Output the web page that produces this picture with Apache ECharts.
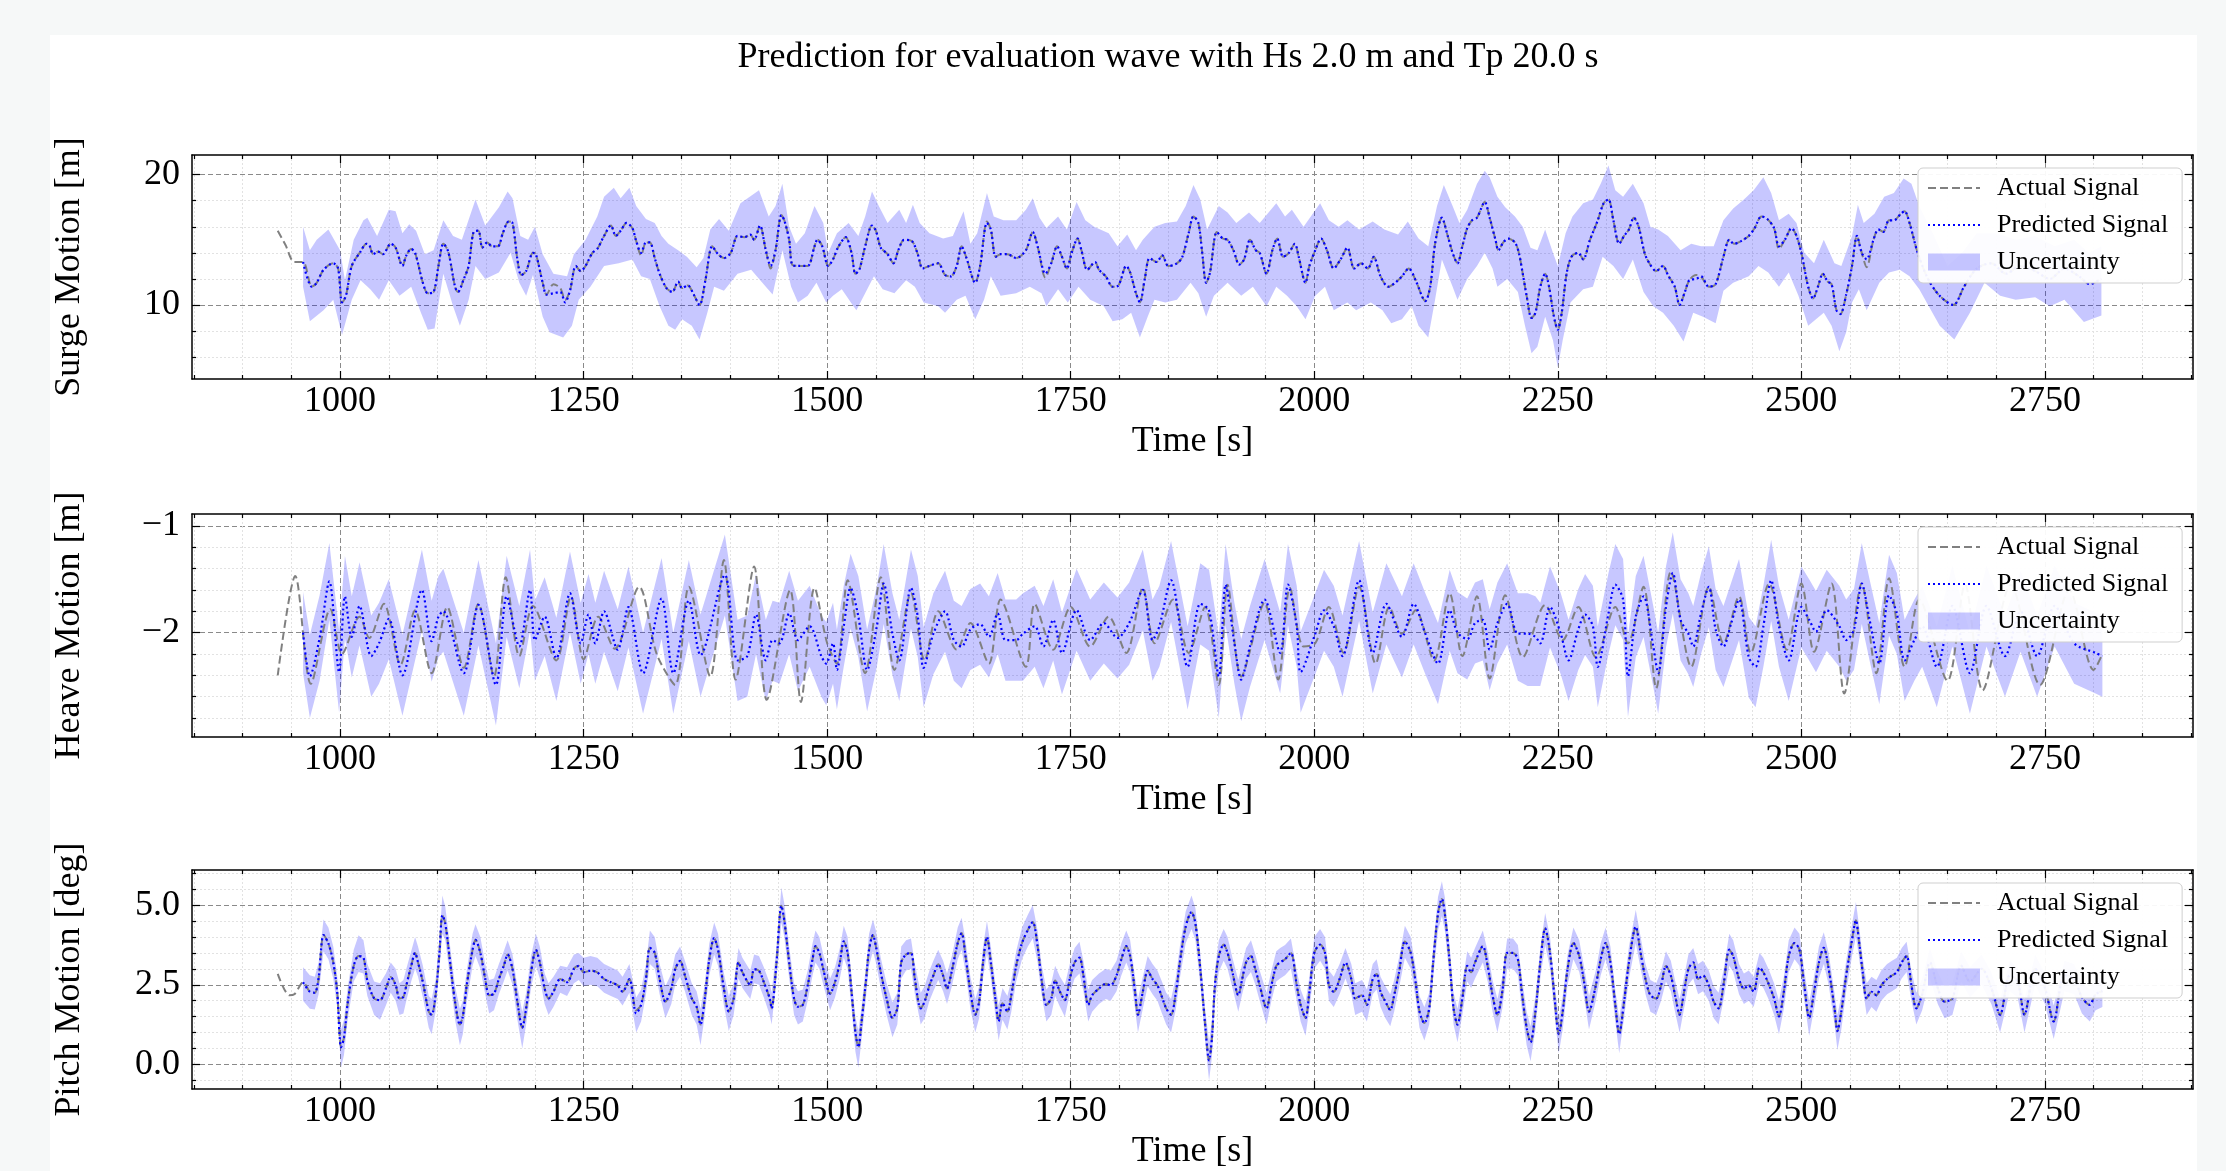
<!DOCTYPE html>
<html lang="en">
<head>
<meta charset="UTF-8">
<title>Prediction for evaluation wave with Hs 2.0 m and Tp 20.0 s</title>
<style>
  html, body { margin: 0; padding: 0; background: #f6f8f8; }
  #chart { width: 2226px; height: 1171px; }
</style>
</head>
<body>
<div id="chart"></div>
<script src="https://cdn.jsdelivr.net/npm/echarts@6/dist/echarts.min.js"></script>
<script>
// ---- axis ticks ----
const xMajor = [1000, 1250, 1500, 1750, 2000, 2250, 2500, 2750]
const xMinor = [850, 900, 950, 1050, 1100, 1150, 1200, 1300, 1350, 1400, 1450, 1550, 1600, 1650, 1700,
  1800, 1850, 1900, 1950, 2050, 2100, 2150, 2200, 2300, 2350, 2400, 2450, 2550, 2600, 2650, 2700, 2800, 2850, 2900]
const surgeYMajor = [10, 20]
const surgeYMinor = [6, 8, 12, 14, 16, 18]
const heaveYMajor = [-2, -1]
const heaveYMinor = [-2.8, -2.6, -2.4, -2.2, -1.8, -1.6, -1.4, -1.2]
const pitchYMajor = [0, 2.5, 5]
const pitchYMinor = [-0.5, 0.5, 1, 1.5, 2, 3, 3.5, 4, 4.5, 5.5, 6]

// ---- surge: [time, actual, predicted] ----
const surgeRows = [
  [936,15.7,null],[944,14.6,null],[953,13.3,null],[962,13.3,13.3],[971,11.4,11.4],[976,11.7,11.7],[983,12.7,12.7],
  [993,13.2,13.2],[998,12.8,12.8],[1002,10.2,10.2],[1006,10.7,10.7],[1012,13.0,13.0],[1021,14.1,14.1],[1027,14.7,14.7],
  [1030,14.6,14.6],[1034,13.9,13.9],[1039,14.1,14.1],[1044,13.9,13.9],[1052,14.7,14.7],[1057,14.4,14.4],[1064,13.0,13.0],
  [1068,13.8,13.8],[1073,14.3,14.3],[1077,14.0,14.0],[1085,11.7,11.7],[1090,10.9,10.9],[1096,11.0,11.0],[1101,13.0,13.0],
  [1106,14.7,14.7],[1111,14.1,14.1],[1118,11.4,11.4],[1121,11.0,11.0],[1127,12.0,12.0],[1132,13.0,13.0],[1137,15.6,15.6],
  [1142,15.7,15.7],[1146,14.4,14.4],[1151,14.8,14.8],[1156,14.5,14.5],[1162,14.5,14.5],[1167,15.5,15.5],[1173,16.4,16.4],
  [1177,16.3,16.3],[1182,13.5,13.5],[1186,12.3,12.3],[1191,12.6,12.6],[1198,14.0,14.0],[1201,13.9,13.9],[1208,11.7,11.7],
  [1212,10.8,10.8],[1219,11.6,10.9],[1226,11.3,11.0],[1231,10.4,10.2],[1236,11.1,11.1],[1242,13.0,13.0],[1247,12.6,12.6],
  [1252,13.0,13.0],[1259,14.0,14.0],[1264,14.3,14.3],[1271,15.3,15.3],[1278,16.1,16.1],[1283,15.3,15.3],[1288,15.7,15.7],
  [1294,16.3,16.3],[1300,15.9,15.9],[1304,14.9,14.9],[1309,13.8,14.0],[1314,14.8,14.8],[1318,14.8,14.8],[1323,13.6,13.6],
  [1328,12.4,12.4],[1335,11.3,11.3],[1341,11.0,11.0],[1347,11.8,11.8],[1351,11.3,11.3],[1357,11.5,11.5],[1363,10.8,10.8],
  [1369,10.0,10.0],[1375,11.9,11.9],[1382,14.5,14.5],[1388,13.9,13.9],[1394,13.6,13.6],[1401,14.0,14.0],[1408,15.3,15.3],
  [1415,15.2,15.2],[1421,15.4,15.4],[1425,15.0,15.0],[1431,16.1,16.1],[1437,14.2,14.2],[1442,12.8,13.0],[1447,14.2,14.2],
  [1453,16.9,16.9],[1456,16.5,16.5],[1461,15.0,15.0],[1464,13.1,13.1],[1470,13.0,13.0],[1480,13.0,13.0],[1487,14.5,14.5],
  [1490,15.0,15.0],[1495,14.5,14.5],[1501,13.0,13.0],[1506,13.5,13.5],[1511,14.4,14.4],[1519,15.2,15.2],[1525,14.0,14.0],
  [1529,12.4,12.4],[1533,12.7,12.7],[1539,14.5,14.5],[1546,16.1,16.1],[1550,15.7,15.7],[1555,14.4,14.4],[1562,13.9,13.9],
  [1568,13.2,13.2],[1573,14.2,14.2],[1579,15.0,15.0],[1587,14.9,14.9],[1593,13.9,13.9],[1598,12.8,12.8],[1605,13.0,13.0],
  [1614,13.2,13.2],[1621,12.3,12.3],[1627,12.2,12.2],[1633,13.0,13.0],[1638,14.5,14.5],[1643,13.6,13.6],[1652,11.7,11.7],
  [1657,13.0,13.0],[1664,16.4,16.3],[1668,15.8,15.8],[1673,13.7,13.7],[1678,13.9,13.9],[1685,13.9,13.9],[1694,13.6,13.6],
  [1704,14.2,14.2],[1711,15.6,15.6],[1716,14.5,14.5],[1724,12.1,12.4],[1730,13.2,13.2],[1736,14.5,14.5],[1741,13.7,13.7],
  [1746,12.8,12.8],[1751,14.0,14.0],[1757,15.1,15.1],[1761,14.2,14.2],[1767,12.7,12.7],[1775,13.3,13.3],[1779,12.7,12.7],
  [1786,12.2,12.2],[1793,11.4,11.4],[1799,11.5,11.5],[1807,13.0,13.0],[1811,12.5,12.5],[1817,10.9,10.9],[1821,10.2,10.2],
  [1826,12.0,12.0],[1831,13.6,13.6],[1838,13.3,13.3],[1844,13.8,13.8],[1850,13.0,13.0],[1857,13.1,13.1],[1864,13.6,13.6],
  [1871,15.5,15.5],[1876,16.8,16.8],[1881,16.3,16.3],[1885,14.0,14.0],[1889,11.7,11.7],[1893,12.5,12.5],[1900,15.6,15.6],
  [1906,15.1,15.1],[1911,15.0,15.0],[1917,14.2,14.2],[1923,13.1,13.1],[1928,13.5,13.5],[1934,15.0,15.0],[1940,14.2,14.2],
  [1944,14.0,14.0],[1951,12.4,12.4],[1957,14.2,14.2],[1962,15.1,15.1],[1968,13.7,13.7],[1974,14.0,14.0],[1980,14.7,14.7],
  [1984,13.7,13.7],[1991,11.7,11.7],[1995,13.0,13.0],[2001,14.2,14.2],[2007,15.1,15.1],[2013,14.2,14.2],[2020,12.8,12.8],
  [2027,13.5,13.5],[2034,14.4,14.4],[2041,12.8,12.8],[2048,13.2,13.2],[2055,12.8,12.8],[2061,13.7,13.7],[2068,12.2,12.2],
  [2076,11.4,11.4],[2083,11.7,11.7],[2090,12.2,12.2],[2097,12.8,12.8],[2104,11.9,11.9],[2114,10.3,10.3],[2119,11.4,11.4],
  [2124,14.7,14.7],[2131,16.7,16.7],[2137,15.3,15.3],[2142,14.0,14.0],[2147,13.2,13.2],[2152,14.5,14.5],[2157,15.9,15.9],
  [2162,16.5,16.5],[2167,16.7,16.7],[2175,17.9,17.9],[2180,16.7,16.7],[2186,15.0,15.0],[2189,14.2,14.2],[2194,14.8,14.8],
  [2199,15.1,15.1],[2206,14.8,14.8],[2210,14.0,14.0],[2214,12.4,12.4],[2218,10.7,10.7],[2223,9.0,9.0],[2227,9.4,9.4],
  [2232,11.4,11.4],[2237,12.4,12.4],[2241,11.4,11.4],[2246,9.1,9.1],[2250,8.1,8.1],[2254,9.4,9.4],[2259,12.4,12.4],
  [2264,13.7,13.7],[2271,14.0,14.0],[2276,13.5,13.5],[2283,15.0,15.0],[2291,16.5,16.5],[2297,17.8,17.8],[2302,18.1,18.1],
  [2307,16.5,16.5],[2313,14.7,14.7],[2318,15.3,15.3],[2323,15.8,15.8],[2328,16.7,16.7],[2333,16.0,16.0],[2339,14.0,14.0],
  [2344,13.2,13.2],[2351,12.6,12.6],[2358,13.0,13.0],[2363,12.3,12.3],[2370,11.4,11.4],[2375,10.0,10.0],[2380,10.9,10.9],
  [2385,11.9,11.9],[2392,12.3,12.0],[2397,12.2,12.2],[2405,11.4,11.4],[2412,11.6,11.6],[2420,13.7,13.7],[2426,15.0,15.0],
  [2431,14.7,14.7],[2438,14.9,14.9],[2446,15.3,15.3],[2452,15.9,15.9],[2459,16.8,16.8],[2465,16.6,16.6],[2472,15.9,15.9],
  [2477,14.3,14.5],[2483,15.0,15.0],[2490,15.9,15.9],[2495,15.3,15.3],[2500,14.0,14.0],[2507,11.4,11.4],[2512,10.5,10.5],
  [2517,11.4,11.4],[2522,12.4,12.4],[2527,11.8,11.8],[2531,11.6,11.6],[2536,9.6,9.6],[2540,9.3,9.3],[2546,10.8,10.8],
  [2552,13.0,13.0],[2557,15.3,15.3],[2562,14.0,14.0],[2567,12.9,13.5],[2574,15.0,15.0],[2579,15.8,15.8],[2584,15.6,15.6],
  [2590,16.5,16.5],[2595,16.5,16.5],[2602,17.0,17.0],[2606,17.2,17.2],[2611,16.3,16.3],[2619,14.1,14.1],[2630,12.0,12.0],
  [2642,10.7,10.7],[2656,10.0,10.0],[2667,11.4,11.4],[2680,12.8,12.8],[2695,13.2,13.2],[2710,12.4,12.4],[2725,13.0,13.0],
  [2740,12.6,12.6],[2755,12.0,12.0],[2770,12.8,12.8],[2785,12.2,12.2],[2796,11.6,11.6],[2808,12.0,12.0]
]
const surgeHi = [
  [962,16.0],[969,14.2],[976,15.0],[988,15.8],[1000,14.2],[1005,11.9],[1014,15.0],[1024,16.5],[1028,16.7],[1038,15.3],
  [1050,17.3],[1057,17.2],[1064,15.5],[1071,16.2],[1078,15.7],[1087,13.9],[1096,14.2],[1106,16.5],[1116,15.3],[1125,15.0],
  [1139,18.1],[1149,16.1],[1163,17.5],[1172,18.7],[1177,18.2],[1185,15.3],[1193,15.0],[1200,16.0],[1208,13.9],[1219,12.4],
  [1233,12.2],[1240,13.9],[1252,15.0],[1264,16.8],[1271,18.3],[1281,19.0],[1288,18.2],[1297,19.0],[1304,17.6],[1314,16.6],
  [1323,16.3],[1330,15.3],[1337,14.7],[1347,14.2],[1356,13.7],[1366,12.9],[1373,13.6],[1380,15.8],[1389,16.6],[1399,15.7],
  [1411,17.8],[1430,18.8],[1440,16.8],[1447,17.6],[1454,19.3],[1461,16.0],[1468,14.7],[1477,15.5],[1487,17.6],[1496,16.3],
  [1501,14.0],[1510,15.5],[1522,16.3],[1532,15.3],[1539,16.8],[1546,18.7],[1553,17.6],[1562,16.3],[1574,17.3],[1581,16.3],
  [1588,17.7],[1595,16.3],[1605,15.5],[1619,15.1],[1629,15.3],[1640,17.2],[1647,14.7],[1654,15.5],[1664,18.6],[1671,16.8],
  [1681,16.5],[1694,16.5],[1704,17.3],[1711,18.2],[1718,16.7],[1725,15.9],[1737,16.8],[1746,15.8],[1756,17.9],[1765,16.5],
  [1774,16.0],[1789,15.5],[1798,14.5],[1808,15.4],[1817,14.2],[1824,15.0],[1836,16.0],[1847,16.3],[1859,16.4],[1868,17.6],
  [1876,19.2],[1883,18.1],[1890,15.8],[1902,17.6],[1911,17.1],[1920,16.3],[1933,17.1],[1944,16.3],[1961,17.8],[1970,16.8],
  [1977,17.3],[1989,16.0],[2006,17.8],[2015,16.5],[2025,16.0],[2034,16.5],[2046,15.8],[2060,16.4],[2072,15.8],[2086,15.4],
  [2096,16.4],[2107,15.1],[2117,14.5],[2126,17.6],[2133,19.2],[2142,17.6],[2149,16.3],[2157,17.3],[2167,19.3],[2175,20.3],
  [2180,19.8],[2188,18.3],[2196,17.5],[2206,16.8],[2214,16.0],[2222,14.4],[2229,14.2],[2237,15.8],[2245,14.0],[2250,13.0],
  [2258,15.5],[2265,16.8],[2276,17.8],[2286,18.1],[2294,19.3],[2302,20.7],[2309,18.8],[2317,18.3],[2327,19.3],[2338,17.8],
  [2345,16.0],[2353,15.8],[2363,15.3],[2376,14.2],[2387,14.7],[2397,14.5],[2410,14.5],[2420,16.5],[2430,17.4],[2441,18.1],
  [2451,18.8],[2461,19.8],[2469,18.6],[2477,16.5],[2487,17.0],[2495,16.3],[2503,14.0],[2513,13.2],[2523,15.0],[2534,13.2],
  [2541,13.0],[2552,15.3],[2558,17.7],[2564,16.3],[2575,17.0],[2585,18.3],[2595,18.6],[2605,19.7],[2613,19.3],[2621,17.6],
  [2635,15.5],[2650,13.0],[2665,14.0],[2680,15.5],[2700,15.5],[2720,15.0],[2740,15.3],[2760,14.5],[2780,15.0],[2795,14.0],
  [2808,14.5]
]
const surgeLo = [
  [962,11.4],[969,8.75],[983,9.6],[993,10.4],[1002,7.7],[1012,10.4],[1021,11.9],[1031,11.2],[1040,10.4],[1050,11.9],
  [1061,10.7],[1073,11.4],[1083,9.4],[1090,8.1],[1097,8.2],[1106,12.4],[1116,9.9],[1123,8.4],[1132,10.4],[1139,13.0],
  [1149,12.0],[1163,12.5],[1175,14.0],[1184,11.7],[1191,10.7],[1198,12.3],[1208,9.1],[1215,7.9],[1229,7.5],[1238,8.4],
  [1245,10.4],[1257,11.4],[1271,13.0],[1286,13.2],[1300,13.5],[1309,12.2],[1318,12.0],[1328,9.9],[1337,8.4],[1344,8.1],
  [1351,8.9],[1361,8.4],[1369,7.35],[1377,9.4],[1384,11.4],[1394,11.1],[1408,12.4],[1422,12.7],[1437,11.4],[1444,10.8],
  [1454,14.2],[1463,11.4],[1470,10.2],[1480,10.7],[1489,11.7],[1499,10.2],[1506,10.7],[1515,11.2],[1527,9.9],[1530,9.6],
  [1539,10.9],[1548,12.2],[1557,11.2],[1569,10.9],[1581,11.9],[1590,11.4],[1599,10.2],[1614,9.9],[1621,9.4],[1633,10.4],
  [1642,10.7],[1652,8.9],[1661,10.4],[1668,12.2],[1678,10.7],[1694,10.9],[1708,11.4],[1720,10.9],[1725,9.9],[1737,11.2],
  [1747,10.2],[1758,11.4],[1770,10.4],[1784,9.9],[1793,8.75],[1803,8.9],[1812,9.4],[1821,7.5],[1829,9.1],[1836,10.4],
  [1847,10.2],[1859,10.4],[1873,11.7],[1881,10.9],[1889,9.1],[1897,10.7],[1911,11.7],[1925,10.7],[1937,11.4],[1951,9.9],
  [1961,11.4],[1972,10.7],[1982,9.9],[1991,8.9],[2001,10.7],[2011,11.4],[2020,9.6],[2034,10.2],[2043,9.6],[2058,10.2],
  [2070,9.6],[2079,8.6],[2090,8.9],[2100,9.9],[2107,8.4],[2117,7.5],[2124,10.4],[2131,13.5],[2142,11.4],[2147,10.4],
  [2157,12.0],[2167,13.0],[2175,14.0],[2183,12.8],[2188,11.4],[2198,12.0],[2209,11.0],[2216,8.5],[2223,6.3],[2229,6.8],
  [2237,9.1],[2245,7.3],[2250,5.2],[2255,7.3],[2263,10.2],[2276,11.2],[2286,11.4],[2296,13.7],[2307,13.0],[2317,12.0],
  [2327,13.5],[2338,11.0],[2348,9.9],[2358,9.4],[2369,8.4],[2379,7.2],[2389,9.4],[2399,9.1],[2412,8.6],[2420,11.1],
  [2430,11.7],[2446,12.2],[2456,13.0],[2466,12.5],[2477,11.4],[2487,12.5],[2497,10.7],[2507,8.4],[2515,8.9],[2523,9.4],
  [2531,8.4],[2539,6.45],[2546,7.9],[2552,10.2],[2559,11.2],[2567,9.6],[2580,11.7],[2590,12.5],[2601,12.7],[2611,12.2],
  [2621,11.2],[2642,8.4],[2657,7.35],[2673,9.4],[2688,11.7],[2704,10.7],[2720,10.4],[2740,10.6],[2755,9.9],[2770,10.4],
  [2790,8.7],[2808,9.2]
]

// ---- heave ----
const heaveActual = [
  [936,-2.40],[954,-1.47],[970,-2.48],[990,-1.78],[1002,-2.20],[1020,-1.85],[1030,-2.05],[1045,-1.73],[1062,-2.30],
  [1077,-1.79],[1094,-2.38],[1110,-1.76],[1127,-2.33],[1142,-1.73],[1158,-2.41],[1170,-1.48],[1184,-2.22],[1198,-1.75],
  [1222,-2.26],[1237,-1.66],[1250,-2.25],[1265,-1.85],[1282,-2.15],[1307,-1.57],[1325,-2.20],[1344,-2.49],[1358,-1.57],
  [1380,-2.41],[1394,-1.32],[1406,-2.44],[1425,-1.38],[1438,-2.63],[1462,-1.60],[1473,-2.65],[1487,-1.58],[1500,-2.10],
  [1510,-2.29],[1521,-1.51],[1539,-2.38],[1555,-1.48],[1569,-2.35],[1586,-1.63],[1600,-2.26],[1614,-1.80],[1633,-2.16],
  [1647,-1.91],[1666,-2.29],[1678,-1.69],[1704,-2.32],[1713,-1.73],[1732,-2.16],[1750,-1.76],[1770,-2.13],[1789,-1.85],
  [1807,-2.19],[1824,-1.58],[1836,-2.10],[1855,-1.69],[1871,-2.19],[1888,-1.76],[1902,-2.49],[1911,-1.55],[1925,-2.41],
  [1949,-1.72],[1963,-2.44],[1975,-1.58],[1989,-2.13],[2001,-2.10],[2015,-1.76],[2030,-2.19],[2046,-1.57],[2063,-2.29],
  [2077,-1.76],[2090,-2.01],[2104,-1.79],[2123,-2.26],[2139,-1.63],[2152,-2.22],[2167,-1.66],[2180,-2.43],[2196,-1.65],
  [2214,-2.23],[2237,-1.74],[2255,-2.07],[2271,-1.76],[2289,-2.23],[2309,-1.76],[2322,-2.10],[2338,-1.57],[2351,-2.52],
  [2366,-1.43],[2387,-2.32],[2405,-1.57],[2420,-2.10],[2436,-1.66],[2448,-2.19],[2467,-1.54],[2485,-2.16],[2500,-1.54],
  [2513,-2.18],[2531,-1.54],[2544,-2.57],[2562,-1.54],[2577,-2.38],[2590,-1.49],[2606,-2.32],[2621,-1.69],[2650,-2.45],
  [2668,-1.55],[2686,-2.54],[2715,-1.55],[2745,-2.49],[2775,-1.60],[2800,-2.35],[2809,-2.20]
]
// [time, predicted, lower, upper]
const heavePred = [
  [962,-2.00,-2.38,-1.62],[969,-2.41,-2.80,-2.02],[979,-2.05,-2.45,-1.65],[989,-1.52,-1.88,-1.16],[999,-2.37,-2.75,-1.98],
  [1005,-1.66,-2.05,-1.28],[1012,-2.04,-2.42,-1.66],[1020,-1.75,-2.12,-1.34],[1032,-2.22,-2.60,-1.84],[1040,-2.10,-2.48,-1.72],
  [1050,-1.87,-2.25,-1.50],[1064,-2.40,-2.78,-2.02],[1084,-1.60,-1.98,-1.22],[1094,-2.08,-2.46,-1.70],[1101,-1.85,-2.23,-1.47],
  [1106,-1.80,-2.18,-1.40],[1127,-2.38,-2.78,-2.00],[1142,-1.74,-2.12,-1.32],[1160,-2.49,-2.87,-2.10],[1171,-1.66,-2.04,-1.28],
  [1184,-2.13,-2.52,-1.75],[1195,-1.60,-1.98,-1.22],[1200,-2.07,-2.45,-1.70],[1210,-1.85,-2.22,-1.48],[1222,-2.24,-2.64,-1.86],
  [1236,-1.63,-2.00,-1.24],[1247,-2.10,-2.48,-1.72],[1255,-1.83,-2.20,-1.45],[1262,-2.10,-2.48,-1.72],[1271,-1.80,-2.18,-1.42],
  [1285,-2.16,-2.55,-1.78],[1296,-1.76,-2.14,-1.38],[1311,-2.38,-2.76,-2.00],[1330,-1.68,-2.06,-1.30],[1342,-2.38,-2.76,-2.00],
  [1358,-1.70,-2.08,-1.32],[1370,-2.21,-2.60,-1.83],[1395,-1.46,-1.84,-1.08],[1408,-2.26,-2.64,-1.88],[1418,-2.22,-2.60,-1.84],
  [1427,-1.83,-2.20,-1.45],[1437,-2.26,-2.64,-1.88],[1444,-2.07,-2.45,-1.70],[1451,-2.10,-2.48,-1.72],[1461,-1.82,-2.20,-1.42],
  [1470,-2.07,-2.55,-1.70],[1482,-1.94,-2.32,-1.56],[1494,-2.22,-2.60,-1.84],[1499,-2.29,-2.68,-1.90],[1506,-2.10,-2.48,-1.72],
  [1510,-2.35,-2.72,-1.97],[1517,-1.94,-2.32,-1.56],[1524,-1.58,-1.96,-1.26],[1532,-1.85,-2.23,-1.47],[1541,-2.35,-2.74,-1.97],
  [1551,-1.94,-2.32,-1.56],[1558,-1.54,-1.92,-1.17],[1567,-2.01,-2.40,-1.63],[1574,-2.26,-2.64,-1.88],[1586,-1.58,-1.96,-1.22],
  [1593,-1.85,-2.23,-1.47],[1599,-2.33,-2.70,-1.95],[1609,-2.01,-2.39,-1.63],[1621,-1.80,-2.18,-1.42],[1630,-2.07,-2.45,-1.70],
  [1638,-2.13,-2.52,-1.75],[1647,-1.97,-2.35,-1.59],[1657,-1.92,-2.30,-1.54],[1666,-2.04,-2.42,-1.66],[1675,-1.82,-2.20,-1.44],
  [1683,-2.07,-2.45,-1.69],[1694,-2.07,-2.45,-1.69],[1701,-2.01,-2.45,-1.63],[1713,-1.94,-2.32,-1.56],[1722,-2.13,-2.52,-1.75],
  [1732,-1.88,-2.26,-1.50],[1741,-2.19,-2.58,-1.81],[1756,-1.79,-2.17,-1.40],[1770,-2.07,-2.45,-1.69],[1784,-1.91,-2.29,-1.53],
  [1798,-2.05,-2.43,-1.67],[1810,-1.91,-2.30,-1.53],[1824,-1.60,-1.98,-1.22],[1834,-2.07,-2.45,-1.69],[1841,-1.94,-2.32,-1.56],
  [1853,-1.51,-1.90,-1.14],[1870,-2.32,-2.72,-1.94],[1883,-1.73,-2.11,-1.35],[1892,-1.79,-2.17,-1.41],[1902,-2.41,-2.80,-2.03],
  [1909,-1.55,-1.93,-1.17],[1918,-2.10,-2.48,-1.72],[1925,-2.44,-2.83,-2.06],[1934,-2.13,-2.51,-1.75],[1949,-1.69,-2.07,-1.31],
  [1965,-2.19,-2.57,-1.81],[1973,-1.55,-1.93,-1.17],[1982,-1.94,-2.32,-1.56],[1986,-2.37,-2.75,-1.99],[2001,-2.01,-2.39,-1.63],
  [2010,-1.79,-2.17,-1.41],[2020,-1.94,-2.32,-1.56],[2029,-2.22,-2.60,-1.84],[2046,-1.51,-1.89,-1.14],[2060,-2.19,-2.57,-1.81],
  [2074,-1.73,-2.11,-1.35],[2090,-2.04,-2.42,-1.66],[2102,-1.73,-2.11,-1.35],[2114,-2.01,-2.39,-1.63],[2127,-2.29,-2.67,-1.91],
  [2139,-1.79,-2.17,-1.41],[2147,-2.00,-2.38,-1.62],[2157,-2.06,-2.44,-1.68],[2165,-1.91,-2.29,-1.53],[2173,-1.88,-2.26,-1.50],
  [2180,-2.16,-2.54,-1.78],[2188,-1.91,-2.29,-1.53],[2198,-1.73,-2.11,-1.35],[2209,-2.01,-2.45,-1.63],[2219,-2.01,-2.50,-1.63],
  [2227,-2.04,-2.50,-1.66],[2232,-2.10,-2.50,-1.72],[2242,-1.76,-2.14,-1.38],[2253,-2.01,-2.39,-1.63],[2261,-2.26,-2.64,-1.88],
  [2271,-1.97,-2.35,-1.59],[2278,-1.83,-2.21,-1.45],[2286,-1.94,-2.32,-1.56],[2291,-2.32,-2.70,-1.94],[2302,-1.82,-2.20,-1.44],
  [2309,-1.55,-1.93,-1.17],[2317,-1.69,-2.07,-1.31],[2322,-2.41,-2.79,-2.03],[2330,-1.85,-2.23,-1.47],[2338,-1.66,-2.04,-1.28],
  [2348,-2.13,-2.51,-1.75],[2353,-2.38,-2.76,-2.00],[2361,-1.76,-2.14,-1.38],[2368,-1.44,-1.82,-1.06],[2376,-1.88,-2.26,-1.50],
  [2384,-2.01,-2.39,-1.63],[2389,-2.13,-2.51,-1.75],[2397,-1.82,-2.20,-1.44],[2405,-1.57,-1.95,-1.19],[2412,-1.97,-2.35,-1.59],
  [2420,-2.13,-2.51,-1.75],[2428,-1.91,-2.29,-1.53],[2436,-1.69,-2.07,-1.31],[2446,-2.23,-2.61,-1.85],[2453,-2.32,-2.70,-1.94],
  [2461,-1.94,-2.32,-1.56],[2469,-1.51,-1.89,-1.13],[2477,-1.94,-2.32,-1.56],[2487,-2.26,-2.64,-1.88],[2500,-1.76,-2.14,-1.38],
  [2508,-1.88,-2.26,-1.50],[2515,-1.99,-2.37,-1.61],[2526,-1.79,-2.17,-1.41],[2539,-1.94,-2.32,-1.56],[2546,-2.07,-2.45,-1.69],
  [2554,-1.97,-2.35,-1.59],[2562,-1.54,-1.92,-1.16],[2570,-1.88,-2.26,-1.50],[2580,-2.29,-2.67,-1.91],[2590,-1.65,-2.03,-1.27],
  [2598,-1.82,-2.20,-1.44],[2606,-2.26,-2.64,-1.88],[2616,-2.07,-2.45,-1.69],[2624,-1.94,-2.32,-1.56],[2639,-2.32,-2.70,-1.94],
  [2655,-1.75,-2.13,-1.37],[2673,-2.38,-2.76,-2.00],[2690,-1.75,-2.13,-1.37],[2709,-2.22,-2.60,-1.84],[2725,-1.80,-2.18,-1.42],
  [2742,-2.22,-2.60,-1.84],[2760,-1.75,-2.13,-1.37],[2780,-2.10,-2.48,-1.72],[2802,-2.19,-2.57,-1.81],[2809,-2.22,-2.60,-1.84]
]

// ---- pitch: [time, actual, predicted, lower, upper] ----
const pitchRows = [
  [936,2.84,null,null,null],[948,2.17,null,null,null],[953,2.20,null,null,null],[960,2.53,null,null,null],
  [962,2.58,2.58,2.00,3.05],[969,2.28,2.28,1.75,2.80],[974,2.25,2.25,1.72,2.75],[978,2.70,2.72,2.20,3.20],[983,4.06,4.06,3.55,4.55],
  [988,3.80,3.80,3.30,4.30],[993,3.20,3.20,2.70,3.70],[997,2.30,2.28,1.80,2.80],[1001,0.54,0.54,-0.10,1.10],[1004,0.84,0.84,0.30,1.40],
  [1008,1.97,1.97,1.45,2.45],[1014,3.09,3.09,2.60,3.60],[1019,3.40,3.40,2.90,4.05],[1024,3.35,3.35,2.85,3.90],[1028,2.63,2.63,2.15,3.15],
  [1035,2.07,2.07,1.55,2.60],[1041,2.02,2.02,1.40,2.55],[1047,2.38,2.38,1.85,2.85],[1052,2.74,2.74,2.25,3.20],[1057,2.50,2.50,2.00,3.00],
  [1061,2.07,2.07,1.55,2.55],[1065,2.12,2.12,1.60,2.65],[1068,2.48,2.48,2.00,3.00],[1073,3.09,3.09,2.60,3.55],[1077,3.50,3.50,3.00,4.00],
  [1080,3.20,3.20,2.75,3.70],[1085,2.58,2.58,2.10,3.10],[1091,1.66,1.66,1.15,2.15],[1094,1.56,1.56,0.95,2.05],[1098,2.17,2.17,1.65,2.65],
  [1102,3.50,3.50,3.00,4.00],[1105,4.68,4.68,4.10,5.30],[1108,4.42,4.42,3.90,4.95],[1113,3.20,3.20,2.70,3.70],[1118,1.97,1.97,1.40,2.45],
  [1123,1.25,1.25,0.60,1.75],[1126,1.51,1.51,0.95,2.00],[1130,2.48,2.48,1.95,2.95],[1136,3.60,3.60,3.10,4.10],[1139,3.91,3.91,3.40,4.40],
  [1144,3.50,3.50,3.00,4.00],[1149,2.68,2.68,2.20,3.15],[1153,2.17,2.17,1.60,2.65],[1158,2.22,2.22,1.70,2.70],[1163,2.68,2.68,2.20,3.15],
  [1168,3.09,3.09,2.60,3.55],[1172,3.45,3.45,2.95,3.90],[1177,2.99,2.99,2.50,3.45],[1182,1.97,1.97,1.40,2.45],[1187,1.15,1.15,0.50,1.65],
  [1191,1.76,1.76,1.25,2.25],[1196,2.89,2.89,2.40,3.40],[1201,3.60,3.60,3.10,4.10],[1205,3.20,3.20,2.70,3.70],[1210,2.38,2.38,1.90,2.85],
  [1214,2.07,2.07,1.55,2.55],[1219,2.28,2.28,1.80,2.75],[1226,2.68,2.68,2.25,3.10],[1233,2.58,2.58,2.15,3.05],[1240,3.00,3.00,2.55,3.45],
  [1245,3.09,3.09,2.65,3.50],[1250,2.89,2.89,2.45,3.35],[1257,2.94,2.94,2.50,3.40],[1264,2.89,2.89,2.45,3.35],[1271,2.68,2.68,2.25,3.15],
  [1278,2.58,2.58,2.15,3.05],[1285,2.48,2.48,2.05,2.95],[1290,2.28,2.28,1.85,2.75],[1297,2.68,2.68,2.25,3.15],[1304,1.70,1.60,1.00,2.10],
  [1309,1.87,1.87,1.35,2.35],[1314,2.68,2.68,2.20,3.15],[1318,3.66,3.66,3.15,4.20],[1323,3.50,3.50,3.00,4.00],[1328,2.68,2.68,2.20,3.15],
  [1334,1.97,1.97,1.45,2.45],[1340,2.38,2.38,1.90,2.85],[1344,2.99,2.99,2.50,3.45],[1349,3.25,3.25,2.75,3.70],[1354,2.79,2.79,2.30,3.25],
  [1361,2.07,2.07,1.55,2.55],[1366,1.81,1.81,1.25,2.30],[1370,1.25,1.25,0.60,1.75],[1374,1.97,1.97,1.45,2.45],[1379,3.30,3.30,2.80,3.80],
  [1384,3.96,3.96,3.45,4.45],[1388,3.60,3.60,3.10,4.10],[1394,2.38,2.38,1.85,2.85],[1399,1.66,1.66,1.05,2.15],[1404,2.07,2.07,1.55,2.55],
  [1409,3.20,3.20,2.70,3.65],[1413,2.89,2.89,2.40,3.35],[1421,2.50,2.50,2.05,2.95],[1425,2.99,2.99,2.55,3.45],[1430,2.94,2.94,2.50,3.40],
  [1435,2.58,2.58,2.10,3.05],[1441,2.07,2.07,1.55,2.55],[1443,1.76,1.76,1.25,2.25],[1448,3.20,3.20,2.70,3.70],[1453,4.98,4.98,4.45,5.55],
  [1456,4.52,4.52,4.00,5.05],[1461,3.20,3.20,2.70,3.70],[1466,2.07,2.07,1.55,2.55],[1470,1.81,1.81,1.25,2.30],[1475,1.87,1.87,1.35,2.35],
  [1480,2.48,2.48,2.00,2.95],[1485,3.30,3.30,2.80,3.80],[1488,3.71,3.71,3.20,4.20],[1492,3.50,3.50,3.00,4.00],[1496,2.99,2.99,2.50,3.45],
  [1503,2.22,2.22,1.70,2.70],[1508,2.58,2.58,2.10,3.05],[1513,3.20,3.20,2.70,3.65],[1517,3.86,3.86,3.35,4.35],[1521,3.50,3.50,3.00,4.00],
  [1525,2.28,2.28,1.75,2.75],[1529,1.00,1.00,0.40,1.50],[1532,0.54,0.54,-0.10,1.05],[1535,1.25,1.25,0.70,1.75],[1540,2.68,2.68,2.15,3.15],
  [1543,3.60,3.60,3.10,4.10],[1547,4.06,4.06,3.55,4.55],[1550,3.71,3.71,3.20,4.20],[1555,2.89,2.89,2.40,3.35],[1561,2.07,2.07,1.55,2.55],
  [1567,1.46,1.46,0.85,1.95],[1572,1.76,1.76,1.25,2.25],[1576,3.20,3.20,2.70,3.70],[1581,3.45,3.45,2.95,3.90],[1586,3.50,3.50,3.00,3.95],
  [1590,2.68,2.68,2.20,3.15],[1596,1.76,1.76,1.25,2.25],[1600,1.97,1.97,1.45,2.45],[1605,2.48,2.48,2.00,2.95],[1609,2.79,2.79,2.30,3.25],
  [1614,3.14,3.14,2.65,3.60],[1619,2.79,2.79,2.30,3.25],[1623,2.38,2.38,1.90,2.85],[1628,2.94,2.94,2.45,3.40],[1634,3.81,3.81,3.30,4.30],
  [1638,4.12,4.12,3.60,4.60],[1642,3.40,3.40,2.90,3.90],[1647,2.28,2.28,1.75,2.75],[1652,1.56,1.56,1.00,2.05],[1656,1.97,1.97,1.45,2.45],
  [1660,3.20,3.20,2.70,3.70],[1664,4.00,4.00,3.50,4.50],[1668,3.20,3.20,2.70,3.70],[1673,1.97,1.97,1.45,2.45],[1676,1.35,1.35,0.75,1.85],
  [1680,1.92,1.92,1.40,2.40],[1685,1.66,1.66,1.10,2.15],[1689,2.17,2.17,1.65,2.65],[1694,3.09,3.09,2.60,3.55],[1700,3.81,3.81,3.30,4.30],
  [1706,4.22,4.22,3.70,4.70],[1711,4.47,4.47,3.95,5.00],[1716,3.71,3.71,3.20,4.20],[1720,2.68,2.68,2.20,3.15],[1725,1.87,1.87,1.35,2.35],
  [1730,2.07,2.07,1.55,2.55],[1734,2.63,2.63,2.15,3.10],[1739,2.28,2.28,1.80,2.75],[1744,2.02,2.02,1.50,2.50],[1749,2.68,2.68,2.20,3.15],
  [1754,3.20,3.20,2.70,3.65],[1759,3.35,3.35,2.85,3.85],[1763,2.79,2.79,2.30,3.25],[1768,1.87,1.87,1.35,2.35],[1772,2.17,2.17,1.65,2.65],
  [1779,2.38,2.38,1.90,2.85],[1786,2.53,2.53,2.05,3.00],[1791,2.48,2.48,2.00,2.95],[1797,2.79,2.79,2.30,3.25],[1802,3.30,3.30,2.80,3.80],
  [1807,3.71,3.71,3.20,4.20],[1811,3.40,3.40,2.90,3.90],[1816,2.28,2.28,1.75,2.75],[1819,1.56,1.56,1.00,2.05],[1824,2.28,2.28,1.75,2.75],
  [1829,2.94,2.94,2.45,3.40],[1834,2.68,2.68,2.20,3.15],[1839,2.48,2.48,2.00,2.95],[1843,2.17,2.17,1.65,2.65],[1848,1.76,1.76,1.25,2.25],
  [1853,1.56,1.56,1.00,2.05],[1858,2.28,2.28,1.75,2.75],[1862,3.20,3.20,2.70,3.70],[1868,4.32,4.32,3.80,4.80],[1874,4.78,4.78,4.25,5.30],
  [1878,4.42,4.42,3.90,4.90],[1883,3.00,3.00,2.50,3.50],[1888,1.25,1.25,0.70,1.75],[1892,0.13,0.13,-0.50,0.70],[1895,0.84,0.84,0.25,1.40],
  [1898,2.48,2.48,1.95,2.95],[1902,3.40,3.40,2.90,3.90],[1907,3.76,3.76,3.25,4.25],[1911,3.50,3.50,3.00,4.00],[1916,2.89,2.89,2.40,3.35],
  [1922,2.17,2.17,1.65,2.65],[1926,2.68,2.68,2.20,3.15],[1930,3.20,3.20,2.70,3.65],[1935,3.40,3.40,2.90,3.90],[1939,3.04,3.04,2.55,3.50],
  [1944,2.48,2.48,2.00,2.95],[1951,1.76,1.76,1.25,2.25],[1956,2.48,2.48,2.00,2.95],[1961,3.09,3.09,2.60,3.55],[1965,3.20,3.20,2.70,3.65],
  [1970,3.30,3.30,2.80,3.75],[1976,3.50,3.50,3.00,3.95],[1982,2.48,2.48,2.00,2.95],[1986,1.87,1.87,1.35,2.35],[1991,1.46,1.46,0.90,1.95],
  [1995,2.28,2.28,1.75,2.75],[2000,3.50,3.50,3.00,4.00],[2006,3.76,3.76,3.25,4.25],[2011,3.50,3.50,3.00,4.00],[2015,2.48,2.48,2.00,2.95],
  [2020,2.28,2.28,1.80,2.75],[2026,2.68,2.68,2.20,3.15],[2032,3.20,3.20,2.70,3.65],[2038,2.68,2.68,2.20,3.15],[2042,2.07,2.07,1.55,2.55],
  [2049,2.17,2.17,1.65,2.65],[2054,1.87,1.87,1.35,2.35],[2060,2.68,2.68,2.20,3.15],[2064,2.84,2.84,2.35,3.30],[2068,2.28,2.28,1.80,2.75],
  [2073,1.97,1.97,1.45,2.45],[2078,1.71,1.71,1.20,2.20],[2082,2.17,2.17,1.65,2.65],[2087,2.89,2.89,2.40,3.35],[2093,3.86,3.86,3.35,4.35],
  [2099,3.50,3.50,3.00,4.00],[2104,2.58,2.58,2.10,3.05],[2108,1.66,1.66,1.15,2.15],[2113,1.30,1.30,0.75,1.80],[2118,1.76,1.76,1.25,2.25],
  [2122,3.20,3.20,2.70,3.70],[2127,4.73,4.73,4.20,5.25],[2131,5.19,5.19,4.65,5.75],[2134,4.73,4.73,4.20,5.25],[2139,3.20,3.20,2.70,3.70],
  [2143,1.76,1.76,1.25,2.25],[2147,1.25,1.25,0.70,1.75],[2152,2.07,2.07,1.55,2.55],[2157,3.09,3.09,2.60,3.55],[2161,2.89,2.89,2.40,3.35],
  [2165,3.20,3.20,2.70,3.65],[2173,3.71,3.71,3.20,4.20],[2178,3.09,3.09,2.60,3.55],[2183,2.17,2.17,1.65,2.65],[2188,1.56,1.56,1.00,2.05],
  [2193,2.28,2.28,1.75,2.75],[2198,3.50,3.50,3.00,3.95],[2204,3.50,3.50,3.00,3.95],[2209,3.30,3.30,2.80,3.75],[2213,2.28,2.28,1.75,2.75],
  [2218,1.15,1.15,0.60,1.65],[2222,0.69,0.69,0.10,1.20],[2227,1.66,1.66,1.10,2.15],[2232,3.20,3.20,2.70,3.65],[2237,4.27,4.27,3.75,4.75],
  [2242,3.50,3.50,3.00,4.00],[2247,1.97,1.97,1.45,2.45],[2251,0.95,0.95,0.35,1.45],[2255,1.66,1.66,1.10,2.15],[2260,2.99,2.99,2.50,3.45],
  [2266,3.81,3.81,3.30,4.30],[2272,3.40,3.40,2.90,3.90],[2277,2.58,2.58,2.10,3.05],[2282,1.66,1.66,1.10,2.15],[2289,2.48,2.48,2.00,2.95],
  [2294,3.30,3.30,2.80,3.80],[2299,3.81,3.81,3.30,4.30],[2304,3.20,3.20,2.70,3.70],[2309,1.87,1.87,1.35,2.35],[2313,0.95,0.95,0.35,1.45],
  [2318,1.97,1.97,1.45,2.45],[2323,3.20,3.20,2.70,3.70],[2330,4.32,4.32,3.80,4.85],[2335,3.50,3.50,3.00,4.00],[2340,2.68,2.68,2.20,3.15],
  [2345,2.17,2.17,1.65,2.65],[2351,2.07,2.07,1.55,2.55],[2356,2.48,2.48,2.00,2.95],[2361,3.09,3.09,2.60,3.55],[2366,2.79,2.79,2.30,3.25],
  [2371,2.07,2.07,1.55,2.55],[2375,1.56,1.56,1.00,2.05],[2379,2.17,2.17,1.65,2.65],[2384,2.99,2.99,2.50,3.45],[2389,3.20,3.20,2.70,3.65],
  [2394,2.68,2.68,2.20,3.15],[2399,2.79,2.79,2.30,3.25],[2405,2.48,2.48,2.00,2.95],[2410,1.97,1.97,1.45,2.45],[2415,1.76,1.76,1.25,2.25],
  [2420,2.48,2.48,2.00,2.95],[2426,3.60,3.60,3.10,4.10],[2430,3.40,3.40,2.90,3.90],[2436,2.68,2.68,2.20,3.15],[2441,2.38,2.38,1.90,2.85],
  [2446,2.48,2.48,2.00,2.95],[2451,2.28,2.28,1.80,2.75],[2457,3.04,3.04,2.55,3.50],[2461,2.89,2.89,2.40,3.35],[2467,2.48,2.48,2.00,2.95],
  [2472,2.07,2.07,1.55,2.55],[2477,1.51,1.51,0.95,2.00],[2482,2.28,2.28,1.75,2.75],[2487,3.40,3.40,2.90,3.90],[2493,3.81,3.81,3.30,4.30],
  [2498,3.60,3.60,3.10,4.10],[2503,2.48,2.48,2.00,2.95],[2508,1.46,1.46,0.90,1.95],[2513,2.28,2.28,1.75,2.75],[2518,3.20,3.20,2.70,3.70],
  [2523,3.66,3.66,3.15,4.15],[2528,3.00,3.00,2.50,3.50],[2534,1.76,1.76,1.25,2.25],[2537,1.05,1.05,0.45,1.55],[2541,1.66,1.66,1.10,2.15],
  [2546,2.79,2.79,2.30,3.25],[2552,3.91,3.91,3.40,4.40],[2556,4.52,4.52,4.00,5.10],[2559,3.91,3.91,3.40,4.40],[2563,2.89,2.89,2.40,3.35],
  [2567,2.07,2.07,1.55,2.55],[2572,2.28,2.28,1.80,2.75],[2577,2.17,2.17,1.65,2.65],[2582,2.48,2.48,2.00,2.95],[2588,2.68,2.68,2.20,3.15],
  [2593,2.79,2.79,2.30,3.25],[2598,2.89,2.89,2.40,3.35],[2603,3.20,3.20,2.70,3.65],[2608,3.40,3.40,2.90,3.85],[2613,2.48,2.48,2.00,2.95],
  [2618,1.76,1.76,1.25,2.25],[2624,2.20,2.20,1.70,2.70],[2632,3.20,3.20,2.70,3.65],[2640,2.40,2.40,1.90,2.90],[2647,1.97,1.97,1.45,2.45],
  [2655,2.07,2.07,1.55,2.55],[2664,3.10,3.10,2.60,3.55],[2673,2.60,2.60,2.10,3.05],[2685,3.00,3.00,2.50,3.45],[2695,2.40,2.40,1.90,2.90],
  [2704,1.56,1.56,1.00,2.05],[2714,2.80,2.80,2.30,3.25],[2722,2.60,2.60,2.10,3.05],[2729,1.56,1.56,1.00,2.05],[2740,3.00,3.00,2.50,3.45],
  [2750,2.40,2.40,1.90,2.85],[2759,1.35,1.35,0.80,1.85],[2770,2.80,2.80,2.30,3.25],[2780,2.70,2.70,2.20,3.15],[2788,2.10,2.10,1.60,2.55],
  [2796,1.87,1.87,1.35,2.35],[2802,2.20,2.20,1.70,2.65],[2809,2.30,2.30,1.80,2.75]
]

// ---- build ----
const font = 'Liberation Serif'
const bandColor = 'rgba(0, 0, 255, 0.22)'
const xMin = 848, xMax = 2902

function col(rows, c) {
  return rows.filter(r => r[c] !== null).map(r => [r[0], r[c]])
}

const panels = [
  { top: 155, height: 224, min: 4.32, max: 21.51, major: surgeYMajor, minor: surgeYMinor, name: 'Surge Motion [m]',
    fmt: v => String(v),
    actual: col(surgeRows, 1), pred: col(surgeRows, 2), hi: surgeHi, lo: surgeLo },
  { top: 514, height: 223, min: -2.978, max: -0.888, major: heaveYMajor, minor: heaveYMinor, name: 'Heave Motion [m]',
    fmt: v => (v < 0 ? '\u2212' : '') + Math.abs(v),
    actual: heaveActual, pred: col(heavePred, 1), hi: col(heavePred, 3), lo: col(heavePred, 2) },
  { top: 870, height: 224, min: -0.77, max: 6.10, major: pitchYMajor, minor: pitchYMinor, name: 'Pitch Motion [deg]',
    fmt: v => v.toFixed(1),
    actual: col(pitchRows, 1), pred: col(pitchRows, 2), hi: col(pitchRows, 4), lo: col(pitchRows, 3) }
]

const black = { color: '#000', width: 1.5 }
const tickStyle = { color: '#000', width: 1.2 }
const labelFont = { fontFamily: font, fontSize: 36, color: '#000' }
const noSymbol = { color: 'rgba(0,0,0,0)', borderWidth: 0 }

const grids = [], xAxes = [], yAxes = [], series = [], legends = []

panels.forEach((p, i) => {
  grids.push({ left: 192, top: p.top, width: 2001, height: p.height, containLabel: false })

  const xb = { type: 'value', gridIndex: i, min: xMin, max: xMax,
    axisLine: { show: false, onZero: false }, axisLabel: { show: false }, splitLine: { show: false } }
  xAxes.push(
    { ...xb, position: 'bottom',
      axisLine: { show: true, onZero: false, lineStyle: black },
      axisTick: { show: true, inside: true, length: 8, customValues: xMajor, lineStyle: tickStyle },
      axisLabel: { show: true, customValues: xMajor, margin: 5, formatter: v => String(v), ...labelFont },
      splitLine: { show: true, lineStyle: { color: '#8a8a8a', width: 1, type: [5, 3] } },
      name: 'Time [s]', nameLocation: 'middle', nameGap: 45, nameTextStyle: labelFont },
    { ...xb, position: 'bottom',
      axisTick: { show: true, inside: true, length: 4, customValues: xMinor, lineStyle: tickStyle },
      splitLine: { show: true, lineStyle: { color: '#e2e2e2', width: 1, type: [2, 2] } } },
    { ...xb, position: 'top',
      axisLine: { show: true, onZero: false, lineStyle: black },
      axisTick: { show: true, inside: true, length: 8, customValues: xMajor, lineStyle: tickStyle } },
    { ...xb, position: 'top',
      axisTick: { show: true, inside: true, length: 4, customValues: xMinor, lineStyle: tickStyle } }
  )

  const yb = { type: 'value', gridIndex: i, min: p.min, max: p.max,
    axisLine: { show: false, onZero: false }, axisLabel: { show: false }, splitLine: { show: false } }
  yAxes.push(
    { ...yb, position: 'left',
      axisLine: { show: true, onZero: false, lineStyle: black },
      axisTick: { show: true, inside: true, length: 8, customValues: p.major, lineStyle: tickStyle },
      axisLabel: { show: true, customValues: p.major, margin: 12, formatter: p.fmt, ...labelFont },
      splitLine: { show: true, lineStyle: { color: '#8a8a8a', width: 1, type: [5, 3] } },
      name: p.name, nameLocation: 'middle', nameGap: 104, nameRotate: 90, nameTextStyle: labelFont },
    { ...yb, position: 'left',
      axisTick: { show: true, inside: true, length: 4, customValues: p.minor, lineStyle: tickStyle },
      splitLine: { show: true, lineStyle: { color: '#e2e2e2', width: 1, type: [2, 2] } } },
    { ...yb, position: 'right',
      axisLine: { show: true, onZero: false, lineStyle: black },
      axisTick: { show: true, inside: true, length: 8, customValues: p.major, lineStyle: tickStyle } },
    { ...yb, position: 'right',
      axisTick: { show: true, inside: true, length: 4, customValues: p.minor, lineStyle: tickStyle } }
  )

  const ax = { xAxisIndex: 4 * i, yAxisIndex: 4 * i }
  series.push(
    { type: 'custom', name: 'Uncertainty', ...ax, silent: true, z: 1,
      itemStyle: { color: bandColor },
      data: [p.hi[0]],
      renderItem: (params, api) => {
        const pts = p.hi.map(d => api.coord(d)).concat(p.lo.slice().reverse().map(d => api.coord(d)))
        return { type: 'polygon', shape: { points: pts }, style: { fill: bandColor } }
      } },
    { type: 'line', name: 'Actual Signal', ...ax, data: p.actual, symbol: 'none', smooth: 0.3, silent: true, z: 2,
      itemStyle: { color: '#808080' }, lineStyle: { color: '#808080', width: 2, type: [8, 4] } },
    { type: 'line', name: 'Predicted Signal', ...ax, data: p.pred, symbol: 'none', smooth: 0.3, silent: true, z: 3,
      itemStyle: { color: '#0000ff' }, lineStyle: { color: '#0000ff', width: 2.2, type: [2, 3] } }
  )

  legends.push({
    z: 20, left: 1918, top: p.top + 13, orient: 'vertical', selectedMode: false,
    itemWidth: 52, itemHeight: 17, itemGap: 11, padding: [7, 14, 8, 9],
    backgroundColor: 'rgba(255,255,255,0.94)', borderColor: '#cfcfcf', borderWidth: 1, borderRadius: 5,
    textStyle: { fontFamily: font, fontSize: 26, color: '#000', padding: [0, 0, 0, 12] },
    data: [
      { name: 'Actual Signal', itemStyle: noSymbol },
      { name: 'Predicted Signal', itemStyle: noSymbol },
      { name: 'Uncertainty', icon: 'rect' }
    ]
  })
})

const chart = echarts.init(document.getElementById('chart'))
chart.setOption({
  animation: false,
  backgroundColor: '#f6f8f8',
  grid: grids,
  xAxis: xAxes,
  yAxis: yAxes,
  legend: legends,
  series: series,
  graphic: [
    { type: 'rect', z: -10, silent: true, shape: { x: 50, y: 35, width: 2147, height: 1136 }, style: { fill: '#ffffff' } },
    { type: 'text', x: 1168, y: 58, silent: true,
      style: { text: 'Prediction for evaluation wave with Hs 2.0 m and Tp 20.0 s', fontFamily: font, fontSize: 36,
        fill: '#000', textAlign: 'center', textVerticalAlign: 'middle' } }
  ]
})
</script>
</body>
</html>
